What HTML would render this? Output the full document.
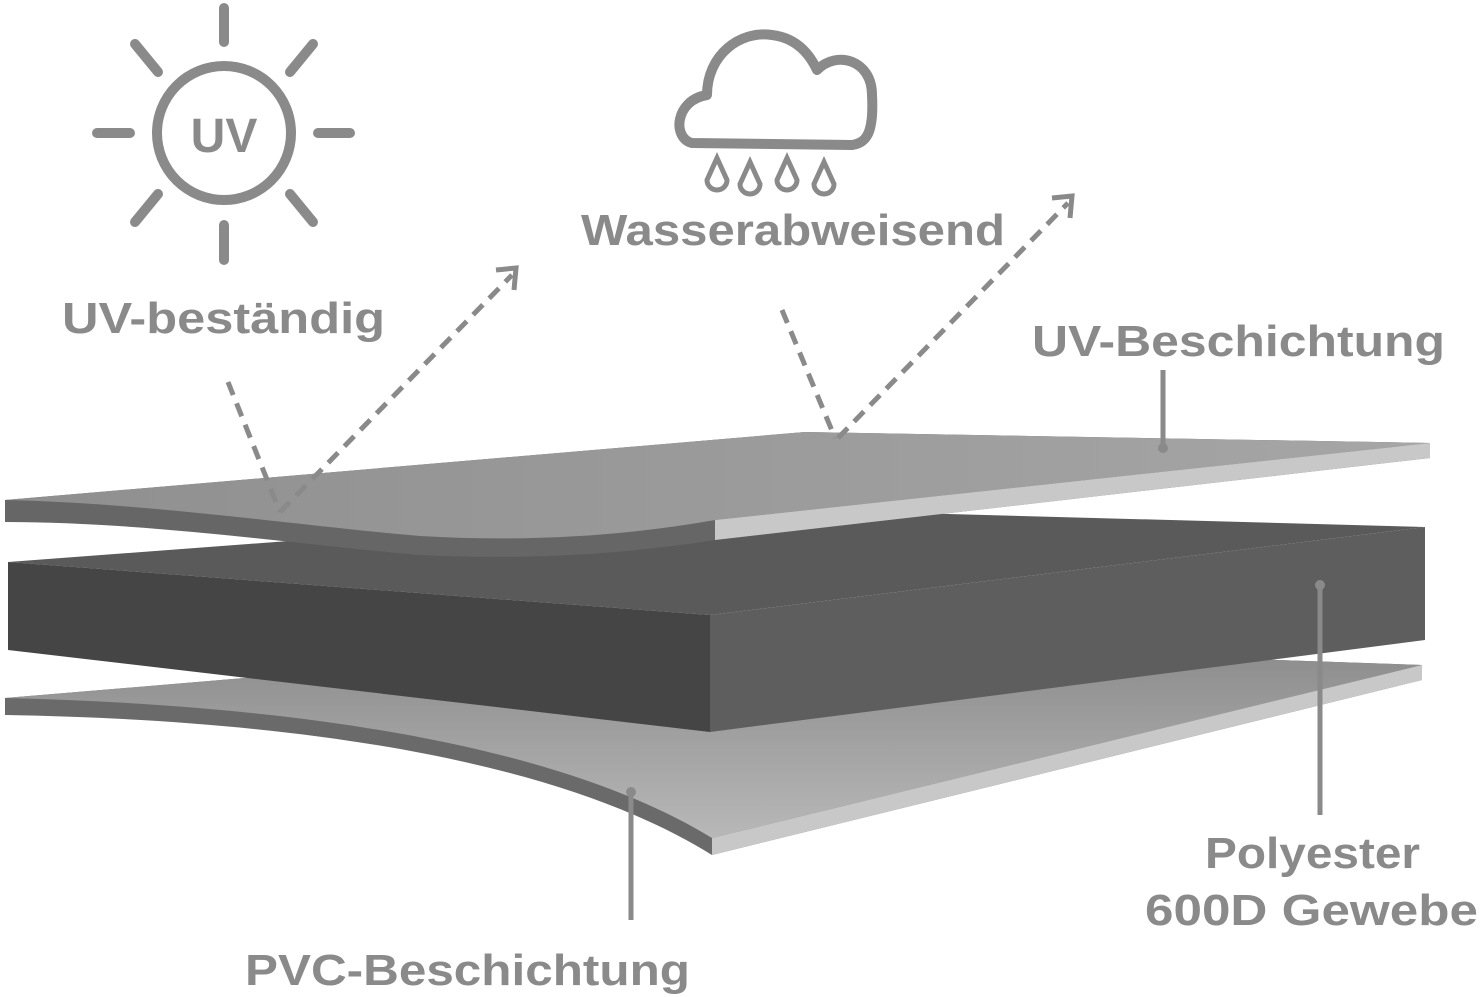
<!DOCTYPE html>
<html><head><style>
body{margin:0;background:#fff;}
svg{display:block;}
text{font-family:"Liberation Sans",sans-serif;font-weight:bold;fill:#8a8a8a;}
</style></head><body>
<svg width="1481" height="997" viewBox="0 0 1481 997" xmlns="http://www.w3.org/2000/svg">
<defs>
<linearGradient id="tg" x1="0" y1="0" x2="1" y2="0"><stop offset="0" stop-color="#8f8f8f"/><stop offset="1" stop-color="#a6a6a6"/></linearGradient>
<linearGradient id="bg" x1="0" y1="0" x2="0" y2="1"><stop offset="0" stop-color="#8a8a8a"/><stop offset="1" stop-color="#b8b8b8"/></linearGradient>
</defs>
<!-- sun -->
<g stroke="#8a8a8a" stroke-width="10" stroke-linecap="round" fill="none">
<circle cx="224" cy="133" r="67"/>
<line x1="224" y1="8" x2="224" y2="42"/>
<line x1="224" y1="225" x2="224" y2="260"/>
<line x1="97" y1="133" x2="130" y2="133"/>
<line x1="318" y1="133" x2="350" y2="133"/>
<line x1="135" y1="44" x2="158" y2="72"/>
<line x1="313" y1="44" x2="290" y2="72"/>
<line x1="135" y1="222" x2="158" y2="194"/>
<line x1="313" y1="222" x2="290" y2="194"/>
</g>
<text x="224" y="152" font-size="48" text-anchor="middle">UV</text>
<!-- cloud -->
<path d="M692 143 C672 138 675 100 707 95 C707 55 740 30 772 35 C797 38 810 55 817 70 C837 50 872 60 872 95 C874 132 867 143 852 145 Z" fill="none" stroke="#8a8a8a" stroke-width="10" stroke-linejoin="round"/>
<g fill="none" stroke="#8a8a8a" stroke-width="5">
<path d="M717 158 L707 180 A10 10 0 1 0 727 180 Z"/>
<path d="M750 162 L740 184 A10 10 0 1 0 760 184 Z"/>
<path d="M787 158 L777 180 A10 10 0 1 0 797 180 Z"/>
<path d="M824 162 L814 184 A10 10 0 1 0 834 184 Z"/>
</g>
<text x="581" y="245" font-size="44" textLength="424" lengthAdjust="spacingAndGlyphs">Wasserabweisend</text>
<text x="62" y="333" font-size="44" textLength="323" lengthAdjust="spacingAndGlyphs">UV-beständig</text>
<text x="1032" y="356" font-size="44" textLength="413" lengthAdjust="spacingAndGlyphs">UV-Beschichtung</text>
<text x="1205" y="868" font-size="44" textLength="215" lengthAdjust="spacingAndGlyphs">Polyester</text>
<text x="1145" y="925" font-size="44" textLength="333" lengthAdjust="spacingAndGlyphs">600D Gewebe</text>
<text x="245" y="985" font-size="44" textLength="445" lengthAdjust="spacingAndGlyphs">PVC-Beschichtung</text>
<!-- bottom sheet -->
<path d="M5 698 L700 640 L1422 665 L1422 680 L712 855 C560 760 300 720 5 715 Z" fill="#6a6a6a"/>
<path d="M5 698 L700 640 L1422 665 L712 838 C560 745 300 705 5 698 Z" fill="url(#bg)"/>
<path d="M712 838 L1422 665 L1422 680 L712 855 Z" fill="#c8c8c8"/>
<!-- block -->
<path d="M8 562 L730 508 L1425 527 L710 615 Z" fill="#5a5a5a"/>
<path d="M8 562 L710 615 L710 732 L8 650 Z" fill="#454545"/>
<path d="M710 615 L1425 527 L1425 640 L710 732 Z" fill="#5e5e5e"/>
<!-- top sheet -->
<path d="M5 500 L805 432 L1430 443 L1430 458 L715 540 C620 555 520 560 420 555 C300 545 150 522 5 522 Z" fill="#666"/>
<path d="M5 500 L805 432 L1430 443 L715 520 C620 537 520 542 420 536 C300 526 150 503 5 500 Z" fill="url(#tg)"/>
<path d="M715 520 L1430 443 L1430 458 L715 540 Z" fill="#c8c8c8"/>
<!-- connectors -->
<g stroke="#8a8a8a" stroke-width="5" fill="none">
<path d="M228 382 L280 512" stroke-dasharray="14 9"/>
<path d="M280 512 L512 275" stroke-dasharray="14 9"/>
<path d="M496 270 L516 268 L514 290"/>
<path d="M782 310 L835 438" stroke-dasharray="14 9"/>
<path d="M838 438 L1068 203" stroke-dasharray="14 9"/>
<path d="M1052 198 L1072 196 L1070 218"/>
<line x1="1163" y1="370" x2="1163" y2="448"/>
<line x1="1320" y1="585" x2="1320" y2="815"/>
<line x1="631" y1="792" x2="631" y2="920"/>
</g>
<g fill="#8a8a8a"><circle cx="1163" cy="448" r="5"/><circle cx="1320" cy="585" r="5"/><circle cx="631" cy="792" r="5"/></g>
</svg>
</body></html>
